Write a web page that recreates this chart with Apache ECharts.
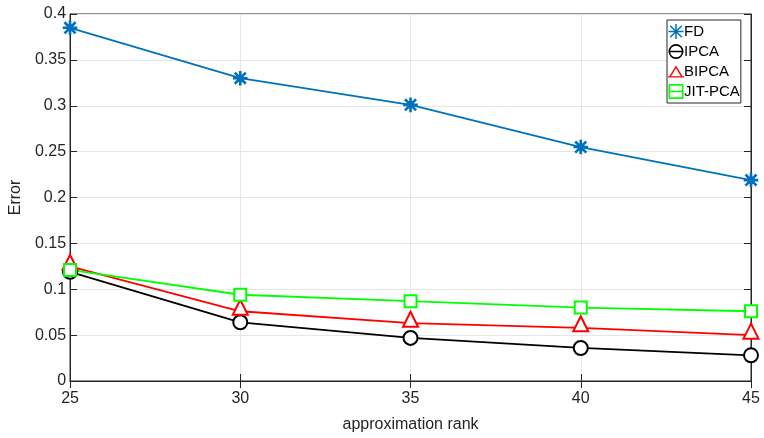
<!DOCTYPE html>
<html>
<head>
<meta charset="utf-8">
<script src="https://cdn.jsdelivr.net/npm/echarts@6/dist/echarts.min.js"></script>
<style>
  html, body { margin: 0; padding: 0; background: #fff; }
  #chart { width: 764px; height: 438px; }
</style>
</head>
<body>
<div id="chart"></div>
<script>
  // data
  var ranks = [25, 30, 35, 40, 45];
  var fdError = [0.385, 0.330, 0.301, 0.255, 0.219];
  var ipcaError = [0.119, 0.064, 0.047, 0.036, 0.028];
  var bipcaError = [0.125, 0.076, 0.063, 0.058, 0.050];
  var jitError = [0.121, 0.094, 0.087, 0.080, 0.076];
  var xTicks = [25, 30, 35, 40, 45];
  var yTicks = [0, 0.05, 0.1, 0.15, 0.2, 0.25, 0.3, 0.35, 0.4];

  var axisColor = '#262626';
  var font = 'Liberation Sans, Arial, sans-serif';
  // asterisk marker like matlab '*'
  var star = 'path://M9.2 0H10.8V20H9.2Z M0 9.2H20V10.8H0Z M1.8 2.9L2.9 1.8L18.2 17.1L17.1 18.2Z M17.1 1.8L18.2 2.9L2.9 18.2L1.8 17.1Z';
  var starIcon = 'path://M9 0H11V20H9Z M0 9H20V11H0Z M1.6 3L3 1.6L18.4 17L17 18.4Z M17 1.6L18.4 3L3 18.4L1.6 17Z';
  // legend icons: marker with the short line sample through it
  var circleIcon = 'path://M10 0A10 10 0 1 1 10 20A10 10 0 1 1 10 0Z M10 2.2A7.8 7.8 0 1 0 10 17.8A7.8 7.8 0 1 0 10 2.2Z M0 9H20V11H0Z';
  var triIcon = 'path://M11 0L22 18L0 18Z M11 4L3.7 16L18.3 16Z M-1 16H23V18H-1Z';
  var rectIcon = 'path://M0 0H20V20H0Z M2.2 2.2V17.8H17.8V2.2Z M0 9H20V11H0Z';

  function pairs(ys) {
    return ranks.map(function (r, i) { return [r, ys[i]]; });
  }

  var myChart = echarts.init(document.getElementById('chart'));

  function mkSeries(name, ys, color, symbol, size, offset) {
    return {
      name: name,
      type: 'line',
      data: pairs(ys),
      xAxisIndex: 0,
      yAxisIndex: 0,
      symbol: symbol,
      symbolSize: size,
      symbolOffset: offset || [0, 0],
      showAllSymbol: true,
      lineStyle: { color: color, width: 1.8 },
      itemStyle: { color: color, borderColor: color, borderWidth: 1.6 },
      animation: false
    };
  }

  myChart.setOption({
    animation: false,
    grid: {
      left: 68, right: 13, top: 14, bottom: 57,
      show: true, borderColor: axisColor, borderWidth: 1
    },
    legend: {
      orient: 'vertical',
      left: 667,
      top: 20,
      padding: [4, 1, 4, 1],
      itemGap: 5,
      itemWidth: 16,
      itemHeight: 15,
      borderColor: axisColor,
      borderWidth: 1,
      backgroundColor: '#fff',
      itemStyle: { borderWidth: 0 },
      textStyle: { fontFamily: font, fontSize: 15, lineHeight: 15, color: '#000', padding: [0, 0, 0, -5] },
      data: [
        { name: 'FD', icon: starIcon },
        { name: 'IPCA', icon: circleIcon },
        { name: 'BIPCA', icon: triIcon },
        { name: 'JIT-PCA', icon: rectIcon }
      ]
    },
    xAxis: [{
      type: 'value',
      min: 25, max: 45, interval: 5,
      name: 'approximation rank',
      nameLocation: 'middle',
      nameGap: 36,
      nameTextStyle: { fontFamily: font, fontSize: 16, color: axisColor },
      axisLine: { lineStyle: { color: axisColor } },
      axisTick: { inside: true, length: 7, lineStyle: { color: axisColor } },
      axisLabel: { fontFamily: font, fontSize: 16, color: axisColor, margin: 10 },
      splitLine: { show: true, lineStyle: { color: '#e6e6e6', width: 1 } }
    }, {
      type: 'value', position: 'top',
      min: 25, max: 45, interval: 5,
      axisLine: { lineStyle: { color: axisColor } },
      axisTick: { inside: true, length: 7, lineStyle: { color: axisColor } },
      axisLabel: { show: false },
      splitLine: { show: false }
    }],
    yAxis: [{
      type: 'value',
      min: 0, max: 0.4, interval: 0.05,
      name: 'Error',
      nameLocation: 'middle',
      nameGap: 44,
      nameTextStyle: { fontFamily: font, fontSize: 16, color: axisColor },
      axisLine: { show: true, lineStyle: { color: axisColor } },
      axisTick: { show: true, inside: true, length: 7, lineStyle: { color: axisColor } },
      axisLabel: {
        fontFamily: font, fontSize: 16, color: axisColor, margin: 4,
        formatter: function (v) { return String(+v.toFixed(2)); }
      },
      splitLine: { show: true, lineStyle: { color: '#e6e6e6', width: 1 } }
    }, {
      type: 'value', position: 'right',
      min: 0, max: 0.4, interval: 0.05,
      axisLine: { show: true, lineStyle: { color: axisColor } },
      axisTick: { show: true, inside: true, length: 7, lineStyle: { color: axisColor } },
      axisLabel: { show: false },
      splitLine: { show: false }
    }],
    series: [
      mkSeries('FD', fdError, '#0072BD', star, 13),
      mkSeries('IPCA', ipcaError, '#000000', 'emptyCircle', 14),
      mkSeries('BIPCA', bipcaError, '#FF0000', 'emptyTriangle', 15, [0, -4]),
      mkSeries('JIT-PCA', jitError, '#00FF00', 'emptyRect', 12)
    ]
  });
</script>
</body>
</html>
